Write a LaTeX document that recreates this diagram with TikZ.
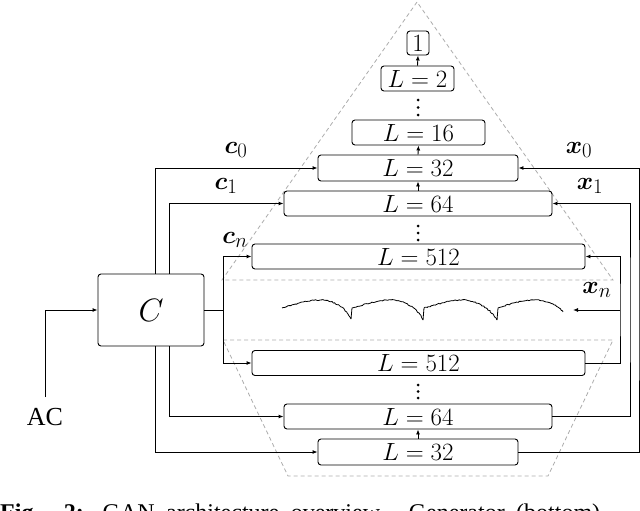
\documentclass[tikz,border=0pt]{standalone}
\usepackage{amsmath}
\usepackage{bm}
\usepackage{graphicx}
\usepackage{fontspec}
\newfontfamily\timesf{Liberation Serif}
\usetikzlibrary{arrows.meta,decorations.pathmorphing}
\begin{document}
\begin{tikzpicture}[x=1pt,y=-1pt,
  blk/.style={draw, rounded corners=3pt, line width=0.9pt, inner sep=0pt, minimum height=25pt, font=\fontsize{24.88}{29}\selectfont},
  conn/.style={line width=0.9pt, -{Latex[length=5pt,width=4pt]}},
  plain/.style={line width=0.9pt},
  guide/.style={draw=gray!65, line width=0.8pt, dash pattern=on 4pt off 3pt},
  lbl/.style={font=\fontsize{24.88}{29}\selectfont, inner sep=0pt},
  wave/.style={line width=0.8pt, decorate, decoration={random steps, segment length=1.5pt, amplitude=0.5pt}}
]
\pgfmathsetseed{7}
\useasboundingbox (0,0) rectangle (640,511);
\clip (0,0) rectangle (640,511);

% dashed regions
\draw[guide] (417,2) -- (222,280) -- (613,280) -- cycle;
\draw[guide] (223,340) -- (613,340) -- (548,476) -- (288,476) -- cycle;

% discriminator blocks
\node[blk, minimum width=22pt, minimum height=24pt] (D1) at (418,43) {$1$};
\node[blk, minimum width=73pt] (D2) at (417.5,78.5) {$L=2$};
\node[blk, minimum width=133pt] (D16) at (418.5,132.5) {$L=16$};
\node[blk, minimum width=200pt, minimum height=26pt] (D32) at (418,168) {$L=32$};
\node[blk, minimum width=268pt] (D64) at (418,203.5) {$L=64$};
\node[blk, minimum width=333pt] (D512) at (418.5,256.5) {$L=512$};

% generator blocks
\node[blk, minimum width=333pt] (G512) at (418.5,363) {$L=512$};
\node[blk, minimum width=268pt] (G64) at (418,416.5) {$L=64$};
\node[blk, minimum width=200pt, minimum height=26pt] (G32) at (418,452) {$L=32$};

% condition network
\node[draw, rounded corners=3pt, line width=0.9pt, minimum width=106pt, minimum height=72pt, font=\fontsize{24.88}{29}\selectfont] (C) at (151,310) {\scalebox{1.3}{$C$}};
\node[font=\timesf\fontsize{26}{30}\selectfont, inner sep=1pt] (ac) at (45,417) {AC};

% dots
\foreach \y in {100,107.5,115,226,233,240,385,391.5,398}{\fill (418,\y) circle (1.5pt);}

% vertical arrows between blocks
\draw[conn] (D2.north) -- (D1.south);
\draw[conn] (D32.north) -- (D16.south);
\draw[conn] (D64.north) -- (D32.south);
\draw[conn] (G32.north) -- (G64.south);

% AC input
\draw[conn] ([yshift=10pt]ac.north) |- (C.west);

% condition connections
\draw[conn] ([xshift=4pt]C.north) |- (D32.west);
\draw[conn] ([xshift=18pt]C.north) |- (D64.west);
\draw[conn] ([xshift=4pt]C.south) |- (G32.west);
\draw[conn] ([xshift=18pt]C.south) |- (G64.west);
\coordinate (cj) at (223,310);
\draw[plain] (C.east) -- (cj);
\draw[conn] (cj) |- (D512.west);
\draw[conn] (cj) |- (G512.west);

% generated signals to discriminator
\coordinate (r0) at (639,310);
\coordinate (r1) at (630,310);
\coordinate (rn) at (620,310);
\coordinate (wend) at (573,310);
\draw[conn] (G32.east) -| (r0) |- (D32.east);
\draw[conn] (G64.east) -| (r1) |- (D64.east);
\draw[conn] (G512.east) -| (rn) |- (D512.east);
\draw[conn] (rn) -- (wend);

% waveform
\draw[wave] (282,308) .. controls (296,304) and (308,300) .. (320,300)
  .. controls (334,300) and (346,308) .. (351,319);
\draw[line width=0.8pt] (351,319) -- (352,308);
\draw[wave] (352,308) .. controls (366,304) and (378,300) .. (391,300)
  .. controls (405,300) and (418,309) .. (423,320);
\draw[line width=0.8pt] (423,320) -- (424,308);
\draw[wave] (424,308) .. controls (438,304) and (450,300) .. (462,300)
  .. controls (476,300) and (491,309) .. (497,320);
\draw[line width=0.8pt] (497,320) -- (498,308);
\draw[wave] (498,308) .. controls (510,304) and (522,300) .. (534,300)
  .. controls (548,300) and (558,306) .. (563,312);

% labels
\node[lbl] (lc0) at (236,150) {$\bm{c}_0$};
\node[lbl] (lc1) at (226,186) {$\bm{c}_1$};
\node[lbl] (lcn) at (235,240) {$\bm{c}_n$};
\node[lbl] (lx0) at (579,150) {$\bm{x}_0$};
\node[lbl] (lx1) at (590,186) {$\bm{x}_1$};
\node[lbl] (lxn) at (597,290) {$\bm{x}_n$};

% caption (cropped)
\node[anchor=base west, inner sep=0pt, font=\timesf\fontsize{24}{28}\selectfont] (cap) at (0,520)
  {\makebox[600pt][s]{\textbf{Fig. 2:} GAN architecture overview. Generator (bottom)}};
\end{tikzpicture}
\end{document}
